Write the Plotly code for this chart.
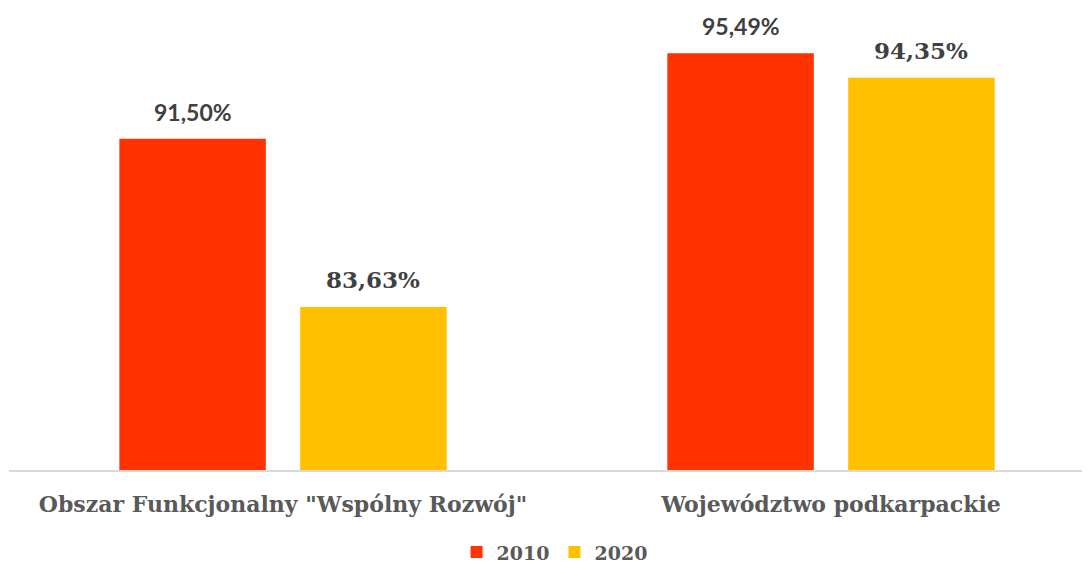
import plotly.graph_objects as go

categories = ['Obszar Funkcjonalny "Wspólny Rozwój"', "Województwo podkarpackie"]
years = ["2010", "2020"]
values_2010 = [91.50, 95.49]
values_2020 = [83.63, 94.35]

colors = {"2010": "#FF3300", "2020": "#FFC000"}
label_fonts = {"2010": "Lato", "2020": "DejaVu Serif"}
series = {"2010": values_2010, "2020": values_2020}

BARGAP = 0.34

fig = go.Figure()
for yr in years:
    fig.add_trace(go.Bar(
        name=yr,
        x=categories,
        y=series[yr],
        marker=dict(color=colors[yr], line=dict(width=0)),
    ))

# value labels above bars (comma decimal separator)
slot = (1 - BARGAP) / len(years)
for j, yr in enumerate(years):
    off = (j - (len(years) - 1) / 2) * slot
    for i, v in enumerate(series[yr]):
        fig.add_annotation(
            x=i + off, y=v, xref="x", yref="y",
            text=f"{v:.2f}".replace(".", ",") + "%",
            showarrow=False, yshift=27,
            font=dict(family=label_fonts[yr], size=23, color="#404040", weight=700),
        )

fig.update_layout(
    width=1090,
    height=567,
    barmode="group",
    bargap=BARGAP,
    bargroupgap=0.19,
    plot_bgcolor="white",
    paper_bgcolor="white",
    margin=dict(l=1, r=0, t=0, b=105, autoexpand=False),
    font=dict(family="DejaVu Serif", color="#595959"),
    legend=dict(
        orientation="h", x=0.501, xanchor="center", y=-0.178, yanchor="middle",
        font=dict(size=19, color="#595959", weight=700),
        itemwidth=30, traceorder="normal",
    ),
    showlegend=True,
)
fig.update_xaxes(
    range=[-0.5, -0.5 + 1089 / 548],
    showline=True, linecolor="#D9D9D9", linewidth=2,
    tickfont=dict(size=22, color="#595959", weight=700),
    ticks="outside", ticklen=14, tickcolor="rgba(0,0,0,0)",
    showgrid=False,
)
fig.update_yaxes(range=[76, 97.61], visible=False, showgrid=False)

fig.write_html("out.html")
